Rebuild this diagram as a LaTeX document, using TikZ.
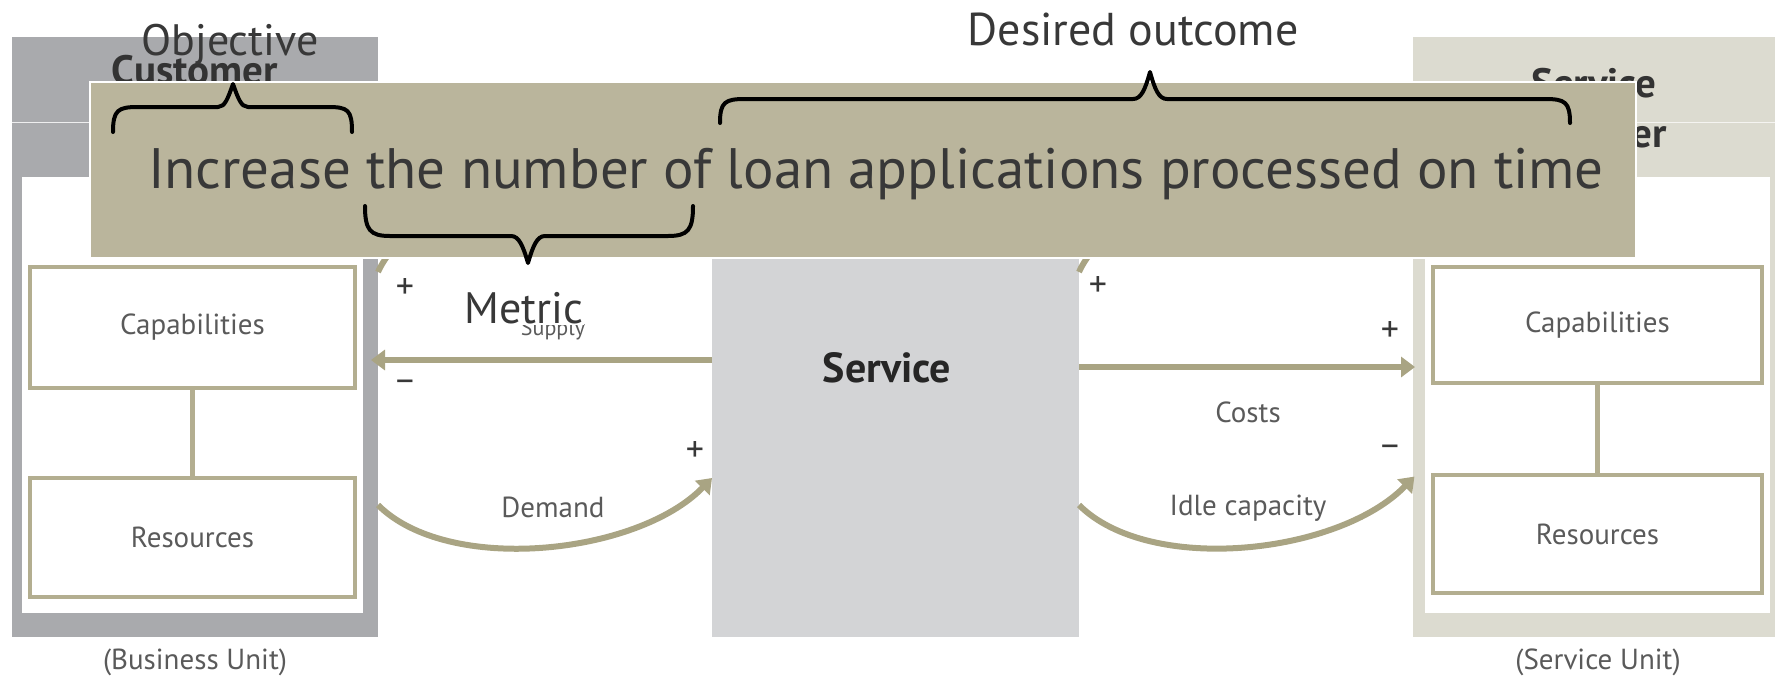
\documentclass[tikz,border=0pt]{standalone}
\usepackage{fontspec}
\setmainfont{PT Sans}
\usetikzlibrary{arrows.meta}
\definecolor{custgray}{HTML}{A9AAAD}
\definecolor{provbeige}{HTML}{DCDBD0}
\definecolor{overlaytan}{HTML}{BAB59C}
\definecolor{linetan}{HTML}{A9A483}
\definecolor{boxtan}{HTML}{B3AE90}
\definecolor{servgray}{HTML}{D3D4D6}
\definecolor{labgray}{HTML}{5A5A5A}
\definecolor{annot}{HTML}{383838}
\tikzset{
  panel/.style={anchor=north west, inner sep=0pt, outer sep=0pt},
  smallbox/.style={panel, fill=white, draw=boxtan, line width=4pt, text=labgray, font=\fontsize{29}{32}\selectfont},
  lab/.style={text=labgray, font=\fontsize{29}{32}\selectfont, inner sep=1pt},
  sign/.style={text=annot, font=\fontsize{36}{38}\selectfont, inner sep=0pt},
  tanarrow/.style={draw=linetan, line width=6pt, -{Triangle[length=14pt,width=20pt]}},
  tanline/.style={draw=linetan, line width=6pt},
  connect/.style={draw=boxtan, line width=5pt},
  bracket/.style={draw=black, line width=4pt, line cap=round, line join=round},
  annotation/.style={text=annot, font=\fontsize{44}{48}\selectfont, inner sep=0pt, anchor=base},
  header/.style={text=black!80, font=\fontsize{41}{44}\selectfont\bfseries, inner sep=0pt, anchor=base}
}
\begin{document}
\begin{tikzpicture}[x=1pt,y=-1pt]
\useasboundingbox (0,0) rectangle (1775,678);
% customer panel
\node[panel, fill=custgray, minimum width=366pt, minimum height=600pt] (cust) at (12,37) {};
\node[header] (custhead) at (195,84) {Customer};
\node[panel, fill=white, minimum width=341pt, minimum height=436pt] (custin) at (22,177) {};
\draw[white!80!custgray, line width=1pt] (cust.west |- 0,122) -- (cust.east |- 0,122);
\node[smallbox, minimum width=325pt, minimum height=121pt] (capL) at (30,267) {Capabilities};
\node[smallbox, minimum width=325pt, minimum height=119pt] (resL) at (30,478) {Resources};
\draw[connect] (capL.south) -- (resL.north);
\node[lab] (bu) at (195,662) {(Business Unit)};
% provider panel
\node[panel, fill=provbeige, minimum width=370pt, minimum height=600pt] (prov) at (1413,37) {};
\node[header] (provhead1) at (1594,97) {Service};
\node[header] (provhead2) at (1594,147) {Provider};
\node[panel, fill=white, minimum width=345pt, minimum height=436pt] (provin) at (1425,177) {};
\draw[white!70!provbeige, line width=1pt] (prov.west |- 0,122) -- (1775,122);
\node[smallbox, minimum width=329pt, minimum height=116pt] (capR) at (1433,267) {Capabilities};
\node[smallbox, minimum width=329pt, minimum height=118pt] (resR) at (1433,475) {Resources};
\draw[connect] (capR.south) -- (resR.north);
\node[lab] (su) at (1598,662) {(Service Unit)};
% service
\node[panel, fill=servgray, minimum width=367pt, minimum height=407pt] (serv) at (712,230) {};
\node[text=black!85, font=\fontsize{42}{46}\selectfont\bfseries, inner sep=0pt] (servlab) at (887,368) {Service};
% coordinates for connector heights
\coordinate (ySup) at (0,360);
\coordinate (yCost) at (0,367);
\coordinate (yDemA) at (0,505);
\coordinate (yDemB) at (0,478);
\coordinate (yTopA) at (0,272);
\coordinate (yTopB) at (0,245);
% hidden upper arcs
\draw[tanline] (cust.east |- yTopA) .. controls +(40,-90) and +(-60,-110) .. (serv.west |- yTopB);
\draw[tanline] (serv.east |- yTopA) .. controls +(40,-90) and +(-60,-110) .. (prov.west |- yTopB);
% supply and costs
\draw[tanarrow, shorten >=-7pt] (serv.west |- ySup) -- (cust.east |- ySup);
\draw[tanarrow, shorten >=-2pt] (serv.east |- yCost) -- (prov.west |- yCost);
% demand and idle capacity
\draw[tanarrow] (cust.east |- yDemA) .. controls +(70,70) and +(-75,77) .. (serv.west |- yDemB);
\draw[tanarrow, shorten >=-2pt] (serv.east |- yDemA) .. controls +(70,70) and +(-75,77) .. (prov.west |- yDemB);
\node[lab] (supply) at (553,330) {\fontsize{22}{24}\selectfont Supply};
\node[lab] (demand) at (553,507) {Demand};
\node[lab] (costs) at (1248,412) {Costs};
\node[lab] (idle) at (1248,508) {Idle capacity};
% signs
\node[sign] (s1) at (405,289) {+};
\node[sign] (s2) at (405,387) {\textminus};
\node[sign] (s3) at (695,452) {+};
\node[sign] (s4) at (1098,287) {+};
\node[sign] (s5) at (1390,332) {+};
\node[sign] (s6) at (1390,452) {\textminus};
% overlay
\node[panel, fill=overlaytan, draw=white, line width=2pt, minimum width=1546pt, minimum height=176pt] (over) at (90,82) {};
\node[anchor=base, text=annot, font=\fontsize{57}{60}\selectfont, inner sep=0pt] (sentence) at (876,188) {Increase the number of loan applications processed on time};
% braces
\draw[bracket] (113,132) .. controls (113,110) and (118,107) .. (138,107) -- (218,107) .. controls (225,107) and (228,98) .. (233,84) .. controls (238,98) and (241,107) .. (248,107) -- (328,107) .. controls (348,107) and (352,110) .. (352,132);
\draw[bracket] (720,123) .. controls (720,102) and (725,99) .. (745,99) -- (1133,99) .. controls (1141,99) and (1145,90) .. (1150,72) .. controls (1155,90) and (1159,99) .. (1167,99) -- (1545,99) .. controls (1565,99) and (1570,102) .. (1570,123);
\draw[bracket] (365,206) .. controls (365,230) and (370,236) .. (390,236) -- (511,236) .. controls (519,236) and (523,246) .. (528,263) .. controls (533,246) and (537,236) .. (545,236) -- (668,236) .. controls (688,236) and (693,230) .. (693,206);
% annotations
\node[annotation] (objective) at (230,55) {Objective};
\node[annotation, font=\fontsize{46}{50}\selectfont] (desired) at (1133,45) {Desired outcome};
\node[annotation, fill=white, inner sep=1pt] (metric) at (524,323) {Metric};
\end{tikzpicture}
\end{document}
